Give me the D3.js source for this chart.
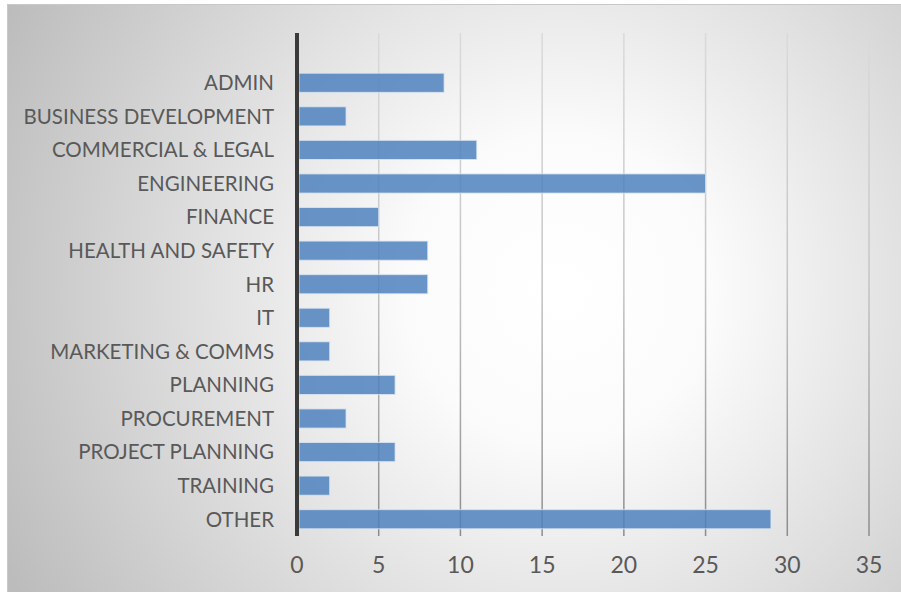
<!DOCTYPE html>
<html>
<head>
<meta charset="utf-8">
<script src="https://cdn.jsdelivr.net/npm/d3@7"></script>
<style>
  html, body { margin: 0; padding: 0; background: #fff; }
  svg { display: block; }
</style>
</head>
<body>
<svg id="chart" width="901" height="592"></svg>
<script>
// Headcount by department
const categories = [
  "ADMIN", "BUSINESS DEVELOPMENT", "COMMERCIAL & LEGAL", "ENGINEERING",
  "FINANCE", "HEALTH AND SAFETY", "HR", "IT", "MARKETING & COMMS",
  "PLANNING", "PROCUREMENT", "PROJECT PLANNING", "TRAINING", "OTHER"
];
const values = [9, 3, 11, 25, 5, 8, 8, 2, 2, 6, 3, 6, 2, 29];
const xTicks = [0, 5, 10, 15, 20, 25, 30, 35];

const svg = d3.select("#chart");
const W = 901, H = 592;
const plot = { left: 297, right: 869, top: 33, bottom: 536 };

const defs = svg.append("defs");

// soft radial backdrop: white centre fading to grey at the corners
const bg = defs.append("radialGradient")
  .attr("id", "bg").attr("gradientUnits", "userSpaceOnUse")
  .attr("cx", 560).attr("cy", 290).attr("r", 620);
bg.append("stop").attr("offset", "0%").attr("stop-color", "#ffffff");
bg.append("stop").attr("offset", "25%").attr("stop-color", "#fbfbfb");
bg.append("stop").attr("offset", "100%").attr("stop-color", "#bcbcbc");

// gridlines darken toward the bottom of the plot
const gg = defs.append("linearGradient")
  .attr("id", "grid").attr("gradientUnits", "userSpaceOnUse")
  .attr("x1", 0).attr("y1", plot.top).attr("x2", 0).attr("y2", plot.bottom);
gg.append("stop").attr("offset", "0%").attr("stop-color", "#dadada");
gg.append("stop").attr("offset", "50%").attr("stop-color", "#c4c4c4");
gg.append("stop").attr("offset", "100%").attr("stop-color", "#8c8c8c");

svg.append("rect")
  .attr("x", 7.5).attr("y", 4.5).attr("width", W).attr("height", H)
  .attr("fill", "url(#bg)").attr("stroke", "#c8c8c8").attr("stroke-width", 1);

const x = d3.scaleLinear().domain([0, 35]).range([plot.left, plot.right]);
const y = d3.scaleBand().domain(categories)
  .range([66, plot.bottom]).paddingInner(0.43).paddingOuter(0.215);

// vertical gridlines
svg.append("g").selectAll("line")
  .data(xTicks.filter(t => t > 0))
  .join("line")
  .attr("x1", d => x(d)).attr("x2", d => x(d))
  .attr("y1", plot.top).attr("y2", plot.bottom)
  .attr("stroke", "url(#grid)").attr("stroke-width", 1.5);

// bars
svg.append("g").selectAll("rect")
  .data(categories.map((c, i) => ({ c, v: values[i] })))
  .join("rect")
  .attr("x", x(0) + 2)
  .attr("y", d => y(d.c))
  .attr("width", d => x(d.v) - x(0) - 2)
  .attr("height", y.bandwidth())
  .attr("fill", "#4f81bd").attr("fill-opacity", 0.85)
  .attr("stroke", "#dce6f2").attr("stroke-opacity", 0.8).attr("stroke-width", 1);

// category axis line
svg.append("line")
  .attr("x1", plot.left).attr("x2", plot.left)
  .attr("y1", plot.top).attr("y2", plot.bottom)
  .attr("stroke", "#3a3a3a").attr("stroke-width", 4);

// category labels
svg.append("g").selectAll("text")
  .data(categories)
  .join("text")
  .attr("x", 274)
  .attr("y", d => y(d) + y.bandwidth() / 2)
  .attr("dy", "0.36em")
  .attr("text-anchor", "end")
  .attr("font-family", "Lato, 'Open Sans', sans-serif")
  .attr("font-size", 20.5)
  .attr("fill", "#595959")
  .text(d => d);

// value axis labels
svg.append("g").selectAll("text")
  .data(xTicks)
  .join("text")
  .attr("x", d => x(d))
  .attr("y", 573)
  .attr("text-anchor", "middle")
  .attr("font-family", "Lato, 'Open Sans', sans-serif")
  .attr("font-size", 23)
  .attr("fill", "#595959")
  .text(d => d);
</script>
</body>
</html>
